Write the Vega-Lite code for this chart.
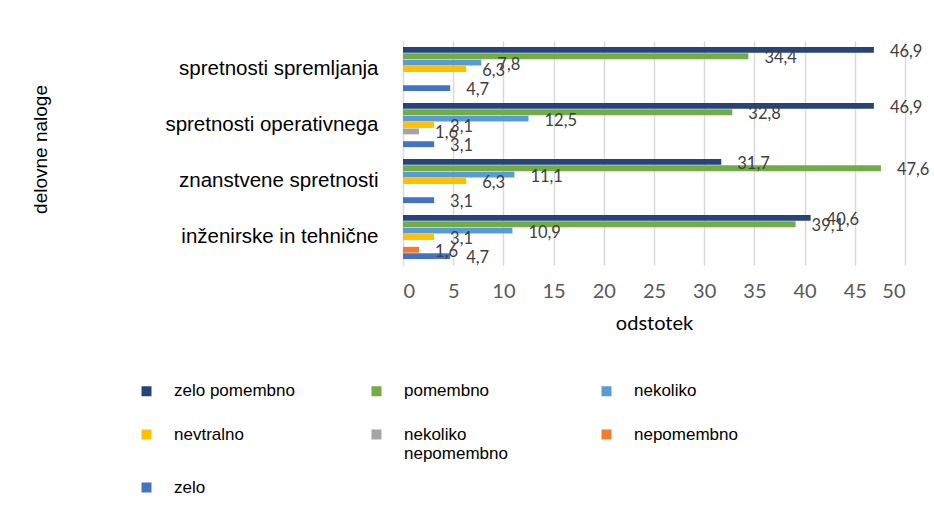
{
  "$schema": "https://vega.github.io/schema/vega-lite/v6.json",
  "autosize": "none",
  "width": 502,
  "height": 224,
  "padding": {"left": 403, "top": 41, "right": 29, "bottom": 247},
  "background": "white",
  "config": {
    "view": {"stroke": null},
    "locale": {"number": {"decimal": ",", "thousands": ".", "grouping": [3], "currency": ["", " €"]}}
  },
  "data": {
    "values": [
      {"naloga": "spretnosti spremljanja", "ocena": "zelo pomembno", "odstotek": 46.9},
      {"naloga": "spretnosti spremljanja", "ocena": "pomembno", "odstotek": 34.4},
      {"naloga": "spretnosti spremljanja", "ocena": "nekoliko", "odstotek": 7.8},
      {"naloga": "spretnosti spremljanja", "ocena": "nevtralno", "odstotek": 6.3},
      {"naloga": "spretnosti spremljanja", "ocena": "zelo", "odstotek": 4.7},
      {"naloga": "spretnosti operativnega", "ocena": "zelo pomembno", "odstotek": 46.9},
      {"naloga": "spretnosti operativnega", "ocena": "pomembno", "odstotek": 32.8},
      {"naloga": "spretnosti operativnega", "ocena": "nekoliko", "odstotek": 12.5},
      {"naloga": "spretnosti operativnega", "ocena": "nevtralno", "odstotek": 3.1},
      {"naloga": "spretnosti operativnega", "ocena": "nekoliko nepomembno", "odstotek": 1.6},
      {"naloga": "spretnosti operativnega", "ocena": "zelo", "odstotek": 3.1},
      {"naloga": "znanstvene spretnosti", "ocena": "zelo pomembno", "odstotek": 31.7},
      {"naloga": "znanstvene spretnosti", "ocena": "pomembno", "odstotek": 47.6},
      {"naloga": "znanstvene spretnosti", "ocena": "nekoliko", "odstotek": 11.1},
      {"naloga": "znanstvene spretnosti", "ocena": "nevtralno", "odstotek": 6.3},
      {"naloga": "znanstvene spretnosti", "ocena": "zelo", "odstotek": 3.1},
      {"naloga": "inženirske in tehnične", "ocena": "zelo pomembno", "odstotek": 40.6},
      {"naloga": "inženirske in tehnične", "ocena": "pomembno", "odstotek": 39.1},
      {"naloga": "inženirske in tehnične", "ocena": "nekoliko", "odstotek": 10.9},
      {"naloga": "inženirske in tehnične", "ocena": "nevtralno", "odstotek": 3.1},
      {"naloga": "inženirske in tehnične", "ocena": "nepomembno", "odstotek": 1.6},
      {"naloga": "inženirske in tehnične", "ocena": "zelo", "odstotek": 4.7}
    ]
  },
  "encoding": {
    "y": {
      "field": "naloga",
      "type": "nominal",
      "sort": ["spretnosti spremljanja", "spretnosti operativnega", "znanstvene spretnosti", "inženirske in tehnične"],
      "scale": {"paddingInner": 0.21, "paddingOuter": 0.105},
      "axis": {
        "title": "delovne naloge",
        "titleFont": "Liberation Sans",
        "titleFontSize": 19,
        "titleFontWeight": "normal",
        "titleColor": "#000000",
        "titleAngle": -90,
        "titleX": -363,
        "titleY": 108,
        "titleAlign": "center",
        "titleBaseline": "middle",
        "labelFont": "Liberation Sans",
        "labelFontSize": 20.5,
        "labelColor": "#000000",
        "labelPadding": 25,
        "labelLimit": 300,
        "ticks": false,
        "domain": false,
        "grid": false
      }
    },
    "yOffset": {
      "field": "ocena",
      "type": "nominal",
      "scale": {"domain": ["zelo pomembno", "pomembno", "nekoliko", "nevtralno", "nekoliko nepomembno", "nepomembno", "zelo"], "paddingInner": 0.08}
    },
    "x": {
      "field": "odstotek",
      "type": "quantitative",
      "scale": {"domain": [0, 50], "nice": false},
      "axis": {
        "values": [0, 5, 10, 15, 20, 25, 30, 35, 40, 45, 50],
        "title": "odstotek",
        "titleFont": "Lato",
        "titleFontSize": 20,
        "titleFontWeight": "normal",
        "titleColor": "#000000",
        "titlePadding": 12,
        "labelFont": "Lato",
        "labelFontSize": 20,
        "labelColor": "#595959",
        "labelPadding": 16,
        "ticks": false,
        "domain": false,
        "grid": true,
        "gridColor": "#d9d9d9",
        "gridWidth": 1.5
      }
    }
  },
  "layer": [
    {
      "mark": {"type": "bar"},
      "encoding": {
        "color": {
          "field": "ocena",
          "type": "nominal",
          "scale": {
            "domain": ["zelo pomembno", "pomembno", "nekoliko", "nevtralno", "nekoliko nepomembno", "nepomembno", "zelo"],
            "range": ["#264478", "#70AD47", "#5B9BD5", "#FFC000", "#A5A5A5", "#ED7D31", "#4472C4"]
          },
          "legend": {
            "orient": "none",
            "legendX": -265,
            "legendY": 332,
            "direction": "horizontal",
            "columns": 3,
            "columnPadding": 73,
            "rowPadding": 16,
            "gridAlign": "all",
            "padding": 0,
            "title": null,
            "symbolType": "square",
            "symbolSize": 100,
            "symbolStrokeWidth": 0,
            "labelFont": "Liberation Sans",
            "labelFontSize": 17,
            "labelColor": "#000000",
            "labelOffset": 19,
            "labelLimit": 300,
            "labelExpr": "datum.label == 'nekoliko nepomembno' ? ['nekoliko', 'nepomembno'] : datum.label"
          }
        }
      }
    },
    {
      "mark": {"type": "text", "align": "left", "baseline": "middle", "dx": 16, "dy": 2, "font": "Lato", "fontSize": 16.5, "color": "#404040"},
      "encoding": {
        "text": {"field": "odstotek", "type": "quantitative", "format": ".1f"}
      }
    }
  ]
}
